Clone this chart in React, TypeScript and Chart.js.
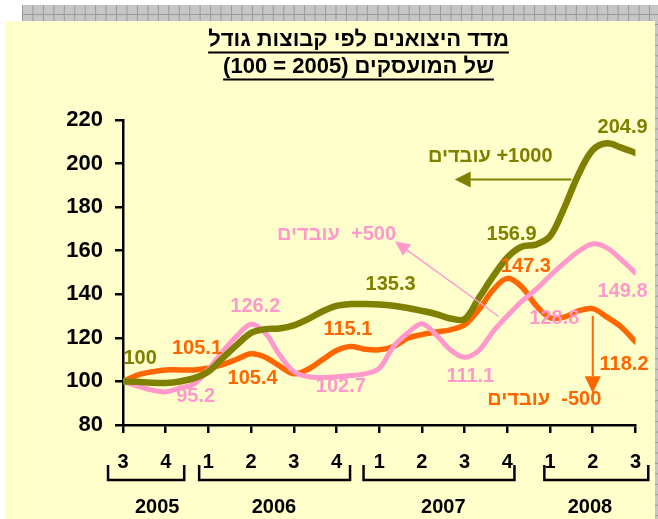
import React, { useEffect, useRef } from "react";
import { Chart, registerables } from "chart.js";

Chart.register(...registerables);

// ---------- data ----------
const titleLines = ["מדד היצואנים לפי קבוצות גודל", "של המועסקים (2005 = 100)"];

// month index from March 2005 (0) to March 2008 (36)
const monthIndex = [
  0, 1, 2, 3, 4, 5, 6, 7, 8, 9, 10, 11, 12, 13, 14, 15, 16, 17, 18, 19, 20, 21,
  22, 23, 24, 25, 26, 27, 28, 29, 30, 31, 32, 33, 34, 35, 36,
];

const quarterLabels = ["3", "4", "1", "2", "3", "4", "1", "2", "3", "4", "1", "2", "3"];
const yearLabels = ["2005", "2006", "2007", "2008"];

const seriesNames = ["1000+ עובדים", "500+  עובדים", "500-  עובדים"];

const large = [
  100, 99.8, 99.4, 99.3, 100, 101.5, 104.5, 110.7, 116.8, 122.3, 124, 124.3,
  125.7, 128.6, 132.1, 134.7, 135.5, 135.5, 135.3, 134.7, 133.7, 132.4, 130.9,
  128.9, 128.6, 138.3, 148.2, 156.9, 161.8, 162.8, 166.6, 179.7, 195, 206.2,
  209.3, 207.3, 204.9,
];
const medium = [
  100, 97.9, 96.1, 95.2, 97, 98.9, 105.6, 113.7, 120.9, 126.2, 122.2, 112.2,
  104.5, 102.2, 101.8, 102.2, 102.7, 103.5, 106, 116, 122.2, 126.5, 121.4,
  114.5, 111.1, 114.2, 122.9, 130.1, 136.7, 142.1, 148.5, 154.4, 159.7, 163.1,
  161.3, 155.9, 149.8,
];
const small = [
  100, 102.9, 104.4, 105.3, 105.3, 105.3, 106.2, 107.7, 110.2, 112.7, 111.1,
  107.1, 103.5, 105.6, 109.9, 114.2, 116.0, 114.8, 114.5, 116, 119.8, 121.5,
  122.7, 123.7, 126, 133, 142, 147.3, 143.5, 135, 129.2, 129.5, 132.4, 133.4,
  129.5, 125, 118.2,
];

// value call-outs (text)
const largeNotes = ["100", "135.3", "156.9", "204.9"];
const mediumNotes = ["95.2", "126.2", "102.7", "111.1", "128.8", "149.8"];
const smallNotes = ["105.1", "105.4", "115.1", "147.3", "118.2"];

// ---------- layout (positions in data space: month index, index value) ----------
const largeNotePos = [[1.2, 110.7], [18.8, 144.4], [27.3, 167.4], [35.1, 216.5]];
const mediumNotePos = [[5.1, 93.3], [9.3, 134.2], [15.3, 97.6], [24.4, 102.2], [30.3, 129.1], [35.1, 141.3]];
const smallNotePos = [[5.2, 115.3], [9.1, 101.5], [15.8, 123.7], [28.3, 152.8], [35.2, 107.6]];
const seriesNamePos = [[25.8, 203.4], [15.0, 167.4], [29.6, 91.5]];
const arrowPos = [
  [[31.5, 192.7], [23.3, 192.7]],
  [[26.4, 129.8], [19.1, 164.3]],
  [[33.0, 130.1], [33.0, 94.6]],
];
const yearBracketFrom = [-1.05, 5.35, 16.9, 29.6];
const yearBracketTo = [4.3, 15.95, 27.5, 36.9];
const yearLabelAt = [2.4, 10.6, 22.5, 32.8];

const COLORS = ["#808000", "#FF99CC", "#FF6600"];
const FONT = "'Liberation Sans', Arial, sans-serif";

function drawArrow(ctx, x1, y1, x2, y2, color, lw, headLen, headW) {
  const ang = Math.atan2(y2 - y1, x2 - x1);
  const bx = x2 - headLen * Math.cos(ang);
  const by = y2 - headLen * Math.sin(ang);
  ctx.save();
  ctx.strokeStyle = color;
  ctx.fillStyle = color;
  ctx.lineWidth = lw;
  ctx.beginPath();
  ctx.moveTo(x1, y1);
  ctx.lineTo(bx, by);
  ctx.stroke();
  ctx.beginPath();
  ctx.moveTo(x2, y2);
  ctx.lineTo(bx + headW * Math.sin(ang), by - headW * Math.cos(ang));
  ctx.lineTo(bx - headW * Math.sin(ang), by + headW * Math.cos(ang));
  ctx.closePath();
  ctx.fill();
  ctx.restore();
}

const decorPlugin = {
  id: "decor",
  beforeDraw(chart) {
    const ctx = chart.ctx;
    ctx.save();
    ctx.fillStyle = "#FFFFFF";
    ctx.fillRect(0, 0, 658, 519);
    // top patterned band
    ctx.fillStyle = "#C6C6C6";
    ctx.fillRect(22, 5, 636, 16);
    ctx.strokeStyle = "#9A9A9A";
    ctx.lineWidth = 1;
    for (let x = 22.5; x < 658; x += 10.45) {
      ctx.beginPath();
      ctx.moveTo(x, 5);
      ctx.lineTo(x, 21);
      ctx.stroke();
    }
    ctx.beginPath();
    ctx.moveTo(22, 14.5);
    ctx.lineTo(658, 14.5);
    ctx.stroke();
    // right strip
    ctx.fillStyle = "#C6C6C6";
    ctx.fillRect(655, 21, 3, 498);
    for (let y = 24.5; y < 519; y += 10.45) {
      ctx.beginPath();
      ctx.moveTo(655, y);
      ctx.lineTo(658, y);
      ctx.stroke();
    }
    // yellow panel
    ctx.fillStyle = "#FFFFCC";
    ctx.fillRect(6, 21, 649, 498);
    // title (right-to-left)
    ctx.fillStyle = "#000";
    ctx.strokeStyle = "#000";
    ctx.font = `bold 22px ${FONT}`;
    ctx.direction = "rtl";
    ctx.textAlign = "center";
    ctx.textBaseline = "middle";
    const ty = [40, 67];
    const cx = 358.5;
    titleLines.forEach((t, i) => {
      ctx.fillText(t, cx, ty[i]);
      const w = ctx.measureText(t).width;
      ctx.lineWidth = 2;
      ctx.beginPath();
      ctx.moveTo(cx - w / 2, ty[i] + 12.5);
      ctx.lineTo(cx + w / 2, ty[i] + 12.5);
      ctx.stroke();
    });
    ctx.restore();
  },
  afterDraw(chart) {
    const ctx = chart.ctx;
    const xs = chart.scales.x;
    const ys = chart.scales.y;
    const px = (v) => xs.getPixelForValue(v);
    const py = (v) => ys.getPixelForValue(v);
    ctx.save();
    ctx.font = `bold 20px ${FONT}`;
    ctx.textAlign = "center";
    ctx.textBaseline = "middle";
    ctx.direction = "ltr";
    // value call-outs
    const groups = [
      [largeNotes, largeNotePos, COLORS[0]],
      [mediumNotes, mediumNotePos, COLORS[1]],
      [smallNotes, smallNotePos, COLORS[2]],
    ];
    groups.forEach(([texts, pos, color]) => {
      ctx.fillStyle = color;
      texts.forEach((t, i) => ctx.fillText(t, px(pos[i][0]), py(pos[i][1])));
    });
    // series names (RTL)
    ctx.direction = "rtl";
    seriesNames.forEach((t, i) => {
      ctx.fillStyle = COLORS[i];
      ctx.fillText(t, px(seriesNamePos[i][0]), py(seriesNamePos[i][1]));
    });
    ctx.direction = "ltr";
    // arrows
    const arrowStyle = [
      [2, 16, 8],
      [1.5, 15, 7],
      [2, 17, 8],
    ];
    arrowPos.forEach((a, i) => {
      drawArrow(ctx, px(a[0][0]), py(a[0][1]), px(a[1][0]), py(a[1][1]), COLORS[i], arrowStyle[i][0], arrowStyle[i][1], arrowStyle[i][2]);
    });
    // year brackets
    ctx.strokeStyle = "#000";
    ctx.lineWidth = 2.5;
    ctx.fillStyle = "#000";
    const top = xs.bottom - 54;
    const bot = xs.bottom - 39;
    yearLabels.forEach((y, i) => {
      const a = px(yearBracketFrom[i]);
      const b = px(yearBracketTo[i]);
      ctx.beginPath();
      ctx.moveTo(a, top);
      ctx.lineTo(a, bot);
      ctx.lineTo(b, bot);
      ctx.lineTo(b, top);
      ctx.stroke();
      ctx.fillText(y, px(yearLabelAt[i]), xs.bottom - 12);
    });
    ctx.restore();
  },
};

export default function App() {
  const ref = useRef<HTMLCanvasElement | null>(null);
  useEffect(() => {
    if (!ref.current) return;
    const mk = (vals) => vals.map((v, i) => ({ x: monthIndex[i], y: v }));
    const chart = new Chart(ref.current, {
      type: "line",
      data: {
        datasets: [
          { label: seriesNames[0], data: mk(large), borderColor: COLORS[0], borderWidth: 6.5, order: 0 },
          { label: seriesNames[1], data: mk(medium), borderColor: COLORS[1], borderWidth: 5, order: 1 },
          { label: seriesNames[2], data: mk(small), borderColor: COLORS[2], borderWidth: 5.5, order: 2 },
        ],
      },
      options: {
        responsive: false,
        animation: false,
        devicePixelRatio: 1,
        elements: { point: { radius: 0 }, line: { tension: 0.35, borderCapStyle: "round", borderJoinStyle: "round" } },
        layout: { padding: { left: 0, right: 18, top: 120, bottom: 0 } },
        plugins: { legend: { display: false }, tooltip: { enabled: false }, title: { display: false } },
        scales: {
          x: {
            type: "linear",
            min: 0,
            max: 36,
            ticks: {
              stepSize: 3,
              autoSkip: false,
              maxRotation: 0,
              padding: 17,
              color: "#000",
              font: { family: FONT, size: 20, weight: "bold" },
              callback: (v) => quarterLabels[Math.round(Number(v) / 3)] ?? "",
            },
            grid: { drawOnChartArea: false, drawTicks: true, tickLength: 8, color: "#000", lineWidth: 2.5 },
            border: { display: true, color: "#000", width: 2.5 },
            afterFit: (s) => {
              s.height = 94;
            },
          },
          y: {
            min: 80,
            max: 220,
            ticks: {
              stepSize: 20,
              padding: 12,
              color: "#000",
              font: { family: FONT, size: 22, weight: "bold" },
            },
            grid: { drawOnChartArea: false, drawTicks: true, tickLength: 8, color: "#000", lineWidth: 2.5 },
            border: { display: true, color: "#000", width: 2.5 },
            afterFit: (s) => {
              s.width = 123;
            },
          },
        },
      },
      plugins: [decorPlugin],
    });
    return () => chart.destroy();
  }, []);
  return (
    <div style={{ position: "fixed", left: 0, top: 0, width: 658, height: 519 }}>
      <canvas ref={ref} width={658} height={519} />
    </div>
  );
}
